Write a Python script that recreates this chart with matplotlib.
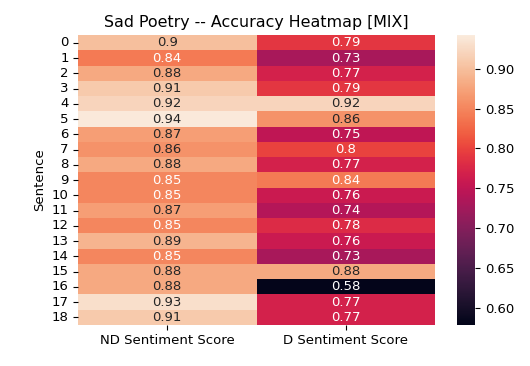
import matplotlib
matplotlib.use("Agg")
import matplotlib.pyplot as plt
import seaborn as sns
import numpy as np
import pandas as pd

sentences = list(range(19))
nd_scores = [0.90, 0.84, 0.88, 0.91, 0.92, 0.94, 0.87, 0.86, 0.88, 0.85,
             0.85, 0.87, 0.85, 0.89, 0.85, 0.88, 0.88, 0.93, 0.91]
d_scores = [0.79, 0.73, 0.77, 0.79, 0.92, 0.86, 0.75, 0.80, 0.77, 0.84,
            0.76, 0.74, 0.78, 0.76, 0.73, 0.88, 0.58, 0.77, 0.77]
columns = ["ND Sentiment Score", "D Sentiment Score"]

s = 0.955
plt.rcParams.update({
    "font.size": 10 * s,
    "axes.titlesize": 12 * s,
    "xtick.major.size": 3.5 * s,
    "ytick.major.size": 3.5 * s,
    "xtick.major.pad": 3.5 * s,
    "ytick.major.pad": 3.5 * s,
})

df = pd.DataFrame({columns[0]: nd_scores, columns[1]: d_scores}, index=sentences)
df.index.name = "Sentence"

fig = plt.figure(figsize=(5.3, 3.66), dpi=100)
ax = fig.add_axes([0.147, 0.112, 0.674, 0.792])
cax = fig.add_axes([0.863, 0.112, 0.034, 0.792])
sns.heatmap(df, annot=True, ax=ax, cbar_ax=cax, vmin=0.578, vmax=0.9425)
ax.set_title("Sad Poetry -- Accuracy Heatmap [MIX]", pad=6 * s)
ax.set_ylabel("Sentence")
ax.tick_params(axis="y", rotation=0)
fig.savefig("out.png", dpi=100)
